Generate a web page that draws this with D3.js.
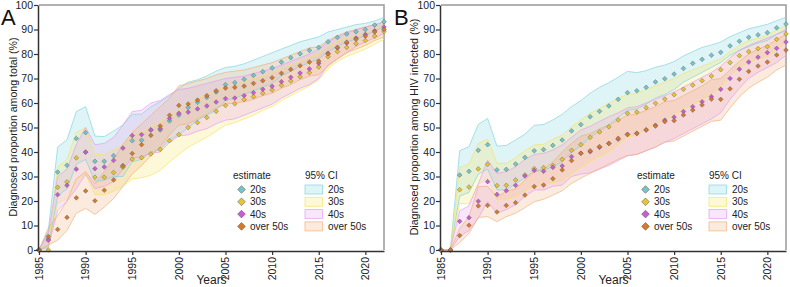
<!DOCTYPE html>
<html>
<head>
<meta charset="utf-8">
<script src="https://cdn.jsdelivr.net/npm/d3@7"></script>
<style>
  body { margin: 0; background: #fff; }
  svg { font-family: "Liberation Sans", Arial, sans-serif; }
</style>
</head>
<body>
<svg id="chart" width="790" height="287"></svg>
<script>
const years = [1985,1986,1987,1988,1989,1990,1991,1992,1993,1994,1995,1996,1997,1998,1999,
  2000,2001,2002,2003,2004,2005,2006,2007,2008,2009,2010,2011,2012,2013,2014,2015,2016,2017,
  2018,2019,2020,2021,2022];
const groups = ["20s", "30s", "40s", "over 50s"];
const xTicks = [1985, 1990, 1995, 2000, 2005, 2010, 2015, 2020];
const yTicks = [0, 10, 20, 30, 40, 50, 60, 70, 80, 90, 100];

// Panel A: among total
const totalEst20 = [0,4.5,31.8,34.6,45.5,47.9,36.2,36.2,38.5,34.5,44.6,44.8,49,49,52.7,55.1,58.2,60.3,62.3,64.5,67.5,68.3,69.7,71.3,72.8,74.3,76.7,78.5,80.1,81.5,82.7,85,86.8,88.2,89.1,90,91.8,93.2];
const totalLo20  = [0,1,22,25,35,37,28,28.5,30,30,36,37,40,41,45,47,50,53,55,57,61,62,63.5,65,66.5,68,71,73,75,76.5,78,81,83,85,86,87.5,89.5,91];
const totalHi20  = [0,8,42,45,56.5,58.5,46.5,46.3,48.6,51,55.4,55.5,58.5,60.5,63,66,68.5,69.5,71,73,74.5,75,76,77.5,79,80.5,82,83.5,85,86,87,89,90,91,92,92.5,93.5,95];

const totalEst30 = [0,0,25.6,27.8,37.6,39.9,29.7,29.7,31.6,33.8,37.1,37.7,39.2,41.1,44.6,47.1,50,52,54.1,56.6,59,59.7,61.4,62.6,64,65.3,67.2,69,70.7,72.4,74.7,78.9,81,82.7,84.2,85.5,87.3,89.2];
const totalLo30  = [0,0,19,21,29,31,22.5,22.5,24,26,29,29.5,30.5,32.5,36,39,42,44,46,48.5,51,52,53.5,55,57,58.5,61,63,65,67,69.5,74,77,79,80.5,82,84,86];
const totalHi30  = [0,2,34,37,48,50,39,39,41,43,47,48,50,52,55,57,60,62,63.5,65,67,67.5,69,70,71,72.5,74,75.5,77,78.5,80,83,85,86.5,87.5,88.5,90,91.5];

const totalEst40 = [0,4,22.6,26.4,33,40,33.2,33.9,36.6,41.6,46.7,47.1,49,49.5,53.7,55.8,56.3,57.6,58.8,60.4,61.8,62,63,64.2,65.6,66.8,68.7,70.5,72.2,73.9,76.2,80.3,82.5,84.5,86.5,88,89.5,91];
const totalLo40  = [0,1.5,16,20,25,31,25,26,28,33,37.5,38,39.5,40,44,46.5,47,48.5,49.5,51.5,53,53.5,55,56.5,58,59.5,62,64,66,67.5,70,75.5,78,80.5,83,85,86.5,88.5];
const totalHi40  = [0,7,30,33,43,50,43,43.5,46,51,56.5,57,60,61,63.5,65.5,66,67,68,69,70,70.5,71,72,73,74,75.5,77,78.5,80,82,85,87,88.5,90,91,92,93];

const totalEst50 = [0,5.5,8.4,13.3,21.3,24.1,20.1,24.4,28.6,34.2,39.4,43,46.8,50.6,55,59,59.6,61.2,63,65,66.1,66.4,66.9,68,69.1,70.3,72.1,73.7,75.2,76.7,77.1,80,82.7,84.8,86,87.3,89,90];
const totalLo50  = [0,2,4,8,15,17,14.5,17.5,21,26,31,34.5,38.5,42,47,51,51.5,53.5,55.5,58,59.5,60,60.5,61.5,63,64,66,67.5,69.5,71,71.5,75,78,80.5,82,83.5,85.5,87];
const totalHi50  = [0,9,14,20,29,32,27,32,37,43,48,51.5,55,58.5,62,67,68,69,70,71.5,72.5,73,73.5,74.5,75.5,76.5,78,79.5,81,82.5,83,85.5,87.5,89,90,91,92,93];

// Panel B: among HIV infected
const hivEst20 = [0,0,30.6,32.1,40.7,43,32.7,32.9,35.1,37.8,40.5,41,42.7,44.9,48.6,51.2,54.4,56.6,58.8,61.5,64.2,65,66.4,68.6,69.9,71.8,74.1,76.2,77.8,79.5,80.7,83.3,85.2,86.8,87.8,88.7,90.7,92.2];
const hivLo20  = [0,0,22,23.5,31,33,24.5,24.5,27,29.5,32,32.5,34,36,40,42.5,46,48.5,51,54,57,57.5,59.5,62,63.5,65.5,68.5,70.5,72.5,74.5,76.5,79.5,81.5,83,84.5,85.5,88,89.5];
const hivHi20  = [0,0,40.5,42.2,51.3,53.7,42.4,42.7,44.9,47.3,50.9,51.2,53.1,55.4,58.5,61,64,66.4,68.3,70.5,72.9,72.4,73.2,74.6,75.5,76.9,79.2,81,82.7,83.7,84.9,87.1,88.7,90.3,91.2,92.1,93.6,95];

const hivEst30 = [0,0,24.6,25.7,33.1,35,26.3,26.4,28.6,30.6,33.2,33.6,34.5,37,40.7,43,46,48.2,50.3,53.1,55.8,56.3,58.1,59.9,61.6,63.4,65.6,67.3,69.1,71,73.6,76.5,79.3,81,82.2,83,86,88.2];
const hivLo30  = [0,0,19,18.8,26.9,29.3,20.4,20.5,21.8,24.2,25.9,26.9,27.5,28.3,31,33.7,36.1,38.1,40.1,43,46,47,49,51,53,55,57.5,59.5,61.5,63.5,66.5,71,74.5,76.5,78,79,82,84.5];
const hivHi30  = [0,0,33.7,35.1,43.5,45.3,35.4,35.4,37.7,40.5,42.9,43.1,45.2,46.9,50.3,53.1,55.8,57.8,59.9,62,63.5,64,65.5,67,68.5,70,72,73.5,75,76.5,78,81,83.5,85.5,86.5,87.5,90,91.5];

const hivEst40 = [0,0,11.7,13.2,19.9,27.9,22.7,24.2,26.4,30.2,32.5,32.1,33.7,34.3,38.1,39.5,40.1,41.9,43.5,45.2,47.2,47.6,49,50.9,53,54.2,56.5,58.5,60.5,62.6,65.6,70,73.8,76.7,78.7,80.6,82.3,84.9];
const hivLo40  = [0,0,5.5,8,13,19.7,15,16.5,18.5,22,24.5,24.5,26,26.5,30,31,31.5,33,34.5,36.5,38.5,39,40.5,42,44,45.5,47.5,49.5,51.5,53.5,56,61.5,66,70,72.5,74.5,76.5,79.5];
const hivHi40  = [0,0,16,18,27,36.7,31.3,32,34,37,39,39.5,40.8,42.9,46,49,50.5,52.5,54.4,56,58,58.5,60,61.5,63,64.5,66.5,68.5,70.5,72.5,75,78.5,81.5,83.5,85,86.5,88,90];

const hivEst50 = [0,0,5.9,10.1,18,18.2,15.5,18.2,19.3,22.4,25.9,26.5,29.1,32.7,36.5,39.5,40.5,42.2,43.5,45.6,47.1,47.6,49,50.6,52.4,52.8,55.1,57.1,59.2,61.6,61.5,65.8,69.7,72.9,75.1,76.7,79.6,81.6];
const hivLo50  = [0,0,3,6.8,13.3,13.6,11.6,13.6,15,17.3,19.7,20.7,22.4,24.2,27.2,29.3,31.3,33.2,35.1,37,38.5,39,40.5,42,44,44.5,46.5,48.5,50.5,52.5,53,58,62.5,66,68.5,70.5,73.5,75.5];
const hivHi50  = [0,0,8.8,13.6,25.9,26,21.5,24,25,28.5,32.5,33,36,40,43.5,46.5,47.5,49.5,51,53,55,55.5,57,58.5,60.5,61,63,65,67,69.5,70,73.5,77,80,82,83.5,86,88];

const markerColor = d3.scaleOrdinal().domain(groups).range(["#72c6cb", "#e8c52c", "#c85cd8", "#d6792b"]);
const bandColor = d3.scaleOrdinal().domain(groups).range(["#80d4dd", "#f4e565", "#e69bf1", "#f0b07a"]);

const svg = d3.select("#chart");

function drawPanel(p) {
  const x = d3.scaleLinear().domain([1985, 2022]).range([p.left, p.right]);
  const y = d3.scaleLinear().domain([0, 100]).range([250, 5]);
  const g = svg.append("g");

  // frame (top/right)
  g.append("path")
    .attr("d", `M${p.left},5H${p.right}V250`)
    .attr("fill", "none")
    .attr("stroke", "#999")
    .attr("stroke-width", 1.5);

  const area = d3.area()
    .x((d, i) => x(years[i]))
    .y0(d => y(d[0]))
    .y1(d => y(d[1]));
  const line = d3.line().x((d, i) => x(years[i])).y(d => y(d));

  p.series.forEach(s => {
    const band = s.lo.map((v, i) => [v, s.hi[i]]);
    g.append("path")
      .attr("d", area(band))
      .attr("fill", bandColor(s.group))
      .attr("fill-opacity", 0.25);
  });
  p.series.forEach(s => {
    [s.lo, s.hi].forEach(edge => {
      g.append("path")
        .attr("d", line(edge))
        .attr("fill", "none")
        .attr("stroke", bandColor(s.group))
        .attr("stroke-opacity", 0.85)
        .attr("stroke-width", 0.8);
    });
  });

  const sym = d3.symbol(d3.symbolSquare, 11);
  p.series.forEach(s => {
    g.selectAll(null)
      .data(s.est)
      .enter()
      .append("path")
      .attr("d", sym)
      .attr("transform", (d, i) => `translate(${x(years[i])},${y(d)}) rotate(45)`)
      .attr("fill", markerColor(s.group))
      .attr("stroke", "#555")
      .attr("stroke-width", 0.4);
  });

  // axes
  const yAxis = g.append("g")
    .attr("transform", `translate(${p.left - 1},0)`)
    .call(d3.axisLeft(y).tickValues(yTicks).tickSize(4).tickSizeOuter(0));
  const xAxis = g.append("g")
    .attr("transform", "translate(0,251)")
    .call(d3.axisBottom(x).tickValues(xTicks).tickFormat(() => "").tickSize(4).tickSizeOuter(0));
  xAxis.selectAll(".tick text").remove();
  [yAxis, xAxis].forEach(a => {
    a.select(".domain").attr("stroke", "#333").attr("stroke-width", 1.5);
    a.selectAll(".tick line").attr("stroke", "#333").attr("stroke-width", 1.2);
  });
  yAxis.selectAll("text").attr("x", -5).attr("fill", "#222").style("font-size", "10.5px");

  // rotated year labels
  svg.selectAll(null)
    .data(xTicks)
    .enter()
    .append("text")
    .attr("transform", d => `translate(${x(d) + 3.8},257) rotate(-90)`)
    .attr("text-anchor", "end")
    .style("font-size", "10.5px")
    .attr("fill", "#222")
    .text(d => d);

  svg.append("text")
    .attr("x", (p.left + p.right) / 2)
    .attr("y", 284)
    .attr("text-anchor", "middle")
    .style("font-size", "12px")
    .attr("fill", "#222")
    .text("Years");

  svg.append("text")
    .attr("transform", `translate(${p.titleX},127) rotate(-90)`)
    .attr("text-anchor", "middle")
    .style("font-size", "10.6px")
    .attr("fill", "#222")
    .text(p.yTitle);

  svg.append("text")
    .attr("x", p.letterX)
    .attr("y", 25)
    .style("font-size", "22px")
    .attr("fill", "#111")
    .text(p.letter);

  // legend
  const lg = svg.append("g").attr("transform", `translate(${p.legendX},0)`);
  lg.append("text").attr("x", 0).attr("y", 179).style("font-size", "10px").attr("fill", "#222").text("estimate");
  lg.append("text").attr("x", 72).attr("y", 179).style("font-size", "10px").attr("fill", "#222").text("95% CI");
  const bigSym = d3.symbol(d3.symbolSquare, 30);
  groups.forEach((grp, i) => {
    const cy = 189.5 + i * 12.3;
    lg.append("path")
      .attr("d", bigSym)
      .attr("transform", `translate(8.5,${cy}) rotate(45)`)
      .attr("fill", markerColor(grp))
      .attr("stroke", "#555")
      .attr("stroke-width", 0.5);
    lg.append("text").attr("x", 17).attr("y", cy + 3.5).style("font-size", "10px").attr("fill", "#222").text(grp);
    lg.append("rect")
      .attr("x", 72).attr("y", cy - 4.5)
      .attr("width", 17.5).attr("height", 9)
      .attr("fill", bandColor(grp)).attr("fill-opacity", 0.25)
      .attr("stroke", bandColor(grp)).attr("stroke-opacity", 0.85).attr("stroke-width", 0.8);
    lg.append("text").attr("x", 95).attr("y", cy + 3.5).style("font-size", "10px").attr("fill", "#222").text(grp);
  });
}

drawPanel({
  left: 39, right: 384, letter: "A", letterX: 1, titleX: 17, legendX: 233,
  yTitle: "Diagnosed proportion among total (%)",
  series: [
    { group: "20s", est: totalEst20, lo: totalLo20, hi: totalHi20 },
    { group: "30s", est: totalEst30, lo: totalLo30, hi: totalHi30 },
    { group: "40s", est: totalEst40, lo: totalLo40, hi: totalHi40 },
    { group: "over 50s", est: totalEst50, lo: totalLo50, hi: totalHi50 }
  ]
});

drawPanel({
  left: 441, right: 786, letter: "B", letterX: 394, titleX: 418, legendX: 637,
  yTitle: "Diagnosed proportion among HIV infected (%)",
  series: [
    { group: "20s", est: hivEst20, lo: hivLo20, hi: hivHi20 },
    { group: "30s", est: hivEst30, lo: hivLo30, hi: hivHi30 },
    { group: "40s", est: hivEst40, lo: hivLo40, hi: hivHi40 },
    { group: "over 50s", est: hivEst50, lo: hivLo50, hi: hivHi50 }
  ]
});
</script>
</body>
</html>
